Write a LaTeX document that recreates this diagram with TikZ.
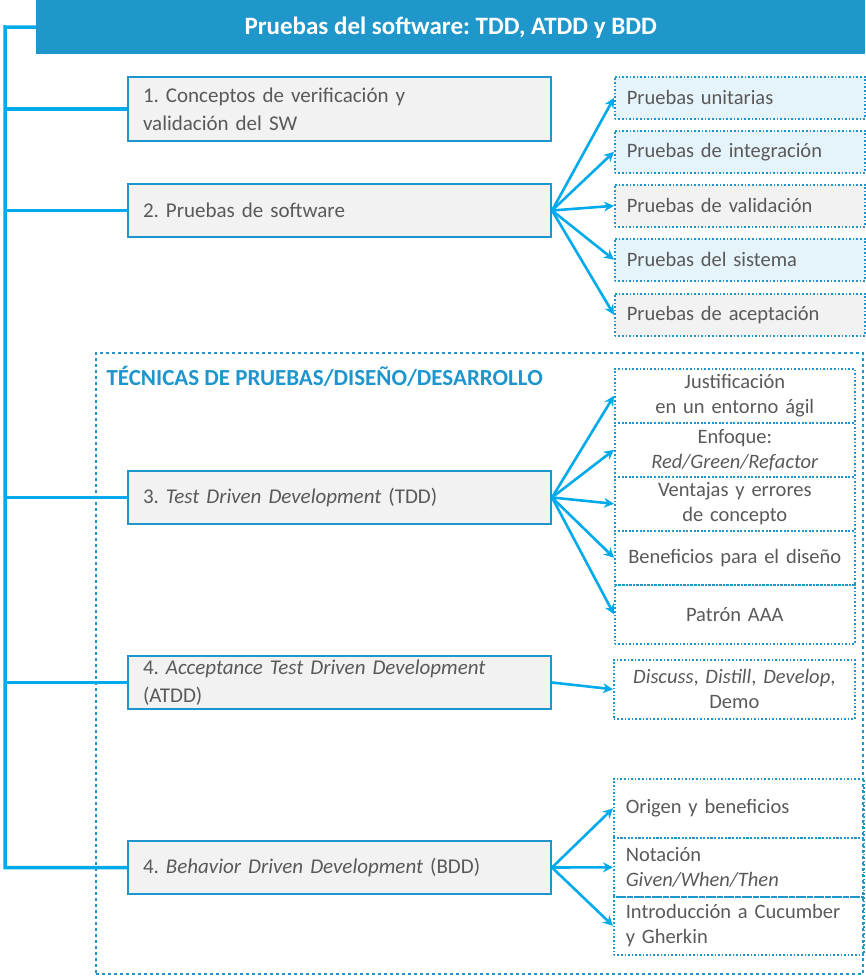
\documentclass[tikz,border=0pt]{standalone}
\usepackage{fontspec}
\setmainfont{Carlito}
\usepackage{tikz}
\usetikzlibrary{arrows.meta,positioning,calc}

\definecolor{azultit}{RGB}{31,151,203}
\definecolor{borde}{RGB}{30,150,205}
\definecolor{cian}{RGB}{0,170,235}
\definecolor{grisf}{RGB}{242,242,242}
\definecolor{celeste}{RGB}{229,243,250}
\definecolor{texto}{RGB}{89,89,89}
\frenchspacing

\begin{document}
\begin{tikzpicture}[x=1pt,y=-1pt]
\tikzset{
    titulo/.style={fill=azultit, text=white, anchor=north west,
        minimum width=829pt, minimum height=54pt,
        font=\fontsize{25}{30}\selectfont\bfseries},
    tema/.style={draw=borde, line width=2pt, fill=grisf, text=texto,
        anchor=north west, minimum width=423pt, minimum height=53pt,
        text width=393pt, inner xsep=15pt, align=left,
        font=\fontsize{21}{28}\selectfont},
    subtema/.style={draw=borde, dotted, line width=1.6pt, text=texto,
        anchor=north west, minimum height=42pt,
        text width=226pt, inner xsep=12pt, align=left,
        font=\fontsize{20.5}{25}\selectfont},
    tecnica/.style={subtema, text width=228pt, inner xsep=6pt, align=center},
    rama/.style={draw=cian, line width=3.5pt},
    flecha/.style={draw=cian, line width=2.6pt, -{Stealth[length=10pt,width=10pt]}},
    marco/.style={draw=borde, dashed, line width=1.5pt, anchor=north west,
        minimum width=767pt, minimum height=621pt}
}
\useasboundingbox (0,0) rectangle (865,976);

% Titulo
\node[titulo] (tit) at (36,0) {Pruebas del software: TDD, ATDD y BDD};

% Tecnicas
\node[marco] (marco) at (95,352) {};
\node[anchor=west, text=borde, font=\fontsize{23}{26}\selectfont\bfseries]
    (lbl) at (103,376) {TÉCNICAS DE PRUEBAS/DISEÑO/DESARROLLO};

% Temas
\node[tema, minimum height=64pt] (t1) at (127,76) {1. Conceptos de verificación y\\validación del SW};
\node[tema] (t2) at (127,183) {2. Pruebas de software};
\node[tema] (t3) at (127,470) {3. \textit{Test Driven Development} (TDD)};
\node[tema] (t4) at (127,655) {4. \textit{Acceptance Test Driven Development}\\(ATDD)};
\node[tema] (t5) at (127,840) {4. \textit{Behavior Driven Development} (BDD)};

% Eje
\coordinate (eje) at (5,27);
\draw[rama] (tit.west) -- (eje) |- (t5.west);
\draw[rama] (eje |- t1.west) -- (t1.west);
\draw[rama] (eje |- t2.west) -- (t2.west);
\draw[rama] (eje |- t3.west) -- (t3.west);
\draw[rama] (eje |- t4.west) -- (t4.west);

% Pruebas
\node[subtema, fill=celeste, minimum width=250pt] (p1) at (614,76) {Pruebas unitarias};
\node[subtema, fill=celeste, minimum width=250pt] (p2) at (614,130) {Pruebas de integración};
\node[subtema, fill=grisf, minimum width=250pt] (p3) at (614,184) {Pruebas de validación};
\node[subtema, fill=celeste, minimum width=250pt] (p4) at (614,238) {Pruebas del sistema};
\node[subtema, fill=grisf, minimum width=250pt] (p5) at (614,293) {Pruebas de aceptación};

\foreach \p in {p1,p2,p3,p4,p5}
    \draw[flecha] (t2.east) -- (\p.west);

% TDD
\node[tecnica, minimum width=240pt, minimum height=54pt] (d1) at (614,368) {Justificación\\en un entorno ágil};
\node[tecnica, minimum width=240pt, minimum height=54pt] (d2) at (614,422) {Enfoque:\\\textit{Red/Green/Refactor}};
\node[tecnica, minimum width=240pt, minimum height=54pt] (d3) at (614,476) {Ventajas y errores\\de concepto};
\node[tecnica, minimum width=240pt, minimum height=54pt] (d4) at (614,530) {Beneficios para el diseño};
\node[tecnica, minimum width=240pt, minimum height=59pt] (d5) at (614,584) {Patrón AAA};

\foreach \d in {d1,d2,d3,d4,d5}
    \draw[flecha] (t3.east) -- (\d.west);

% ATDD
\node[tecnica, minimum width=241pt, minimum height=59pt] (a1) at (613,659)
    {\textit{Discuss}, \textit{Distill}, \textit{Develop},\\Demo};
\draw[flecha] (t4.east) -- (a1.west);

% BDD
\node[subtema, minimum width=241pt, minimum height=59pt] (b1) at (613,778) {Origen y beneficios};
\node[subtema, minimum width=241pt, minimum height=59pt] (b2) at (613,837) {Notación\\\textit{Given/When/Then}};
\node[subtema, minimum width=241pt, minimum height=58pt] (b3) at (613,896) {Introducción a Cucumber\\y Gherkin};

\foreach \b in {b1,b2,b3}
    \draw[flecha] (t5.east) -- (\b.west);

\end{tikzpicture}
\end{document}
